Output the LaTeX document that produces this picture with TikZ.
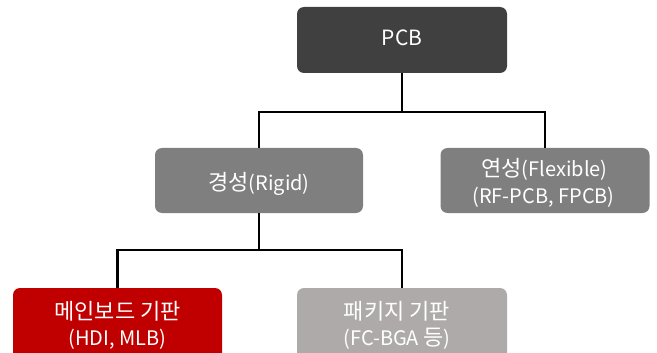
\documentclass[tikz,border=0pt]{standalone}
\usepackage{fontspec}
\setmainfont{Noto Sans CJK KR}
\newcommand{\hg}[1]{{\fontsize{22}{26}\selectfont #1}}
\newcommand{\lt}[1]{{\fontsize{20}{24}\selectfont #1}}
\begin{document}
\begin{tikzpicture}[x=1pt,y=-1pt,
  box/.style={rounded corners=7pt,inner sep=0pt,draw=none},
  lbl/.style={text=white,inner sep=0pt,align=center},
  conn/.style={line width=2.6pt,draw=black}]
\useasboundingbox (0,0) rectangle (657,353);
\clip (0,0) rectangle (657,353);
\definecolor{cpcb}{HTML}{404040}
\definecolor{cmid}{HTML}{7F7F7F}
\definecolor{cred}{HTML}{C00000}
\definecolor{clight}{HTML}{AEAAAA}
% boxes
\node[box,fill=cpcb,minimum width=210pt,minimum height=66pt] (pcb) at (402,40) {};
\node[box,fill=cmid,minimum width=208pt,minimum height=65pt] (rigid) at (259,180.5) {};
\node[box,fill=cmid,minimum width=209pt,minimum height=65pt] (flex) at (545,180.5) {};
\node[box,fill=cred,minimum width=209pt,minimum height=80pt] (main) at (117.5,328) {};
\node[box,fill=clight,minimum width=210pt,minimum height=80pt] (pkg) at (402,328) {};
% labels
\node[lbl,font=\fontsize{21}{25}\selectfont] (tpcb) at (402,38) {PCB};
\node[lbl] (trigid) at (259,184) {\hg{경성}\lt{(Rigid)}};
\node[lbl] (tflex1) at (544.5,169) {\hg{연성}\lt{(Flexible)}};
\node[lbl] (tflex2) at (543.5,197) {\lt{(RF-PCB, FPCB)}};
\node[lbl] (tmain1) at (117.5,311) {\hg{메인보드 기판}};
\node[lbl] (tmain2) at (117.5,339) {\lt{(HDI, MLB)}};
\node[lbl] (tpkg1) at (397,311) {\hg{패키지 기판}};
\node[lbl] (tpkg2) at (397,339) {\lt{(FC-BGA }\hg{등}\lt{)}};
% connectors
\coordinate (j1) at (402,112);
\coordinate (j2) at (259,250);
\draw[conn] (pcb.south) -- (j1);
\draw[conn] (rigid.north) |- (j1) -| (flex.north);
\draw[conn] (rigid.south) -- (j2);
\draw[conn] (main.north) |- (j2) -| (pkg.north);
\end{tikzpicture}
\end{document}
